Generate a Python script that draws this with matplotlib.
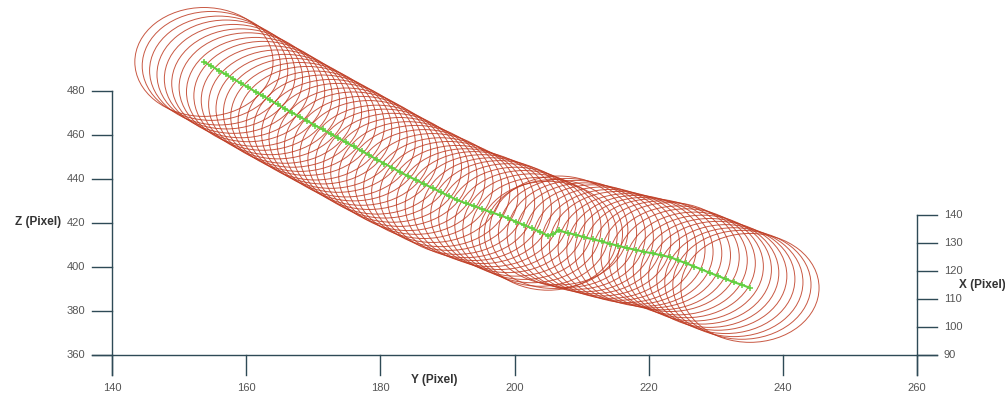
"""
Tube centreline with cross-section circles, drawn as a flat pseudo-3D view
(Y horizontal, Z vertical, X on a separate right-hand scale).
"""
import matplotlib.pyplot as plt
from matplotlib.patches import Ellipse

# centreline (Y, Z in pixels)
y_path = [153.7, 154.8, 155.9, 157.0, 158.1, 159.2, 160.3, 161.4, 162.5, 163.6,
          164.7, 165.8, 166.9, 168.0, 169.1, 170.3, 171.4, 172.6, 173.7, 174.9,
          176.0, 177.2, 178.3, 179.5, 180.6, 181.8, 182.9, 184.1, 185.3, 186.5,
          187.8, 189.0, 190.2, 191.4, 192.7, 194.0, 195.2, 196.5, 197.8, 199.0,
          200.2, 201.4, 202.6, 203.8, 205.0, 205.8, 206.6, 207.9, 209.2, 210.4,
          211.7, 213.0, 214.3, 215.5, 216.8, 218.1, 219.3, 220.6, 221.9, 223.2,
          224.4, 225.6, 226.8, 228.0, 229.1, 230.3, 231.5, 232.7, 233.9, 235.1]
z_path = [493.2, 491.4, 489.3, 487.5, 485.5, 483.5, 481.7, 479.6, 477.8, 475.8,
          473.9, 471.9, 470.1, 468.2, 466.4, 464.3, 462.5, 460.5, 458.7, 456.6,
          454.8, 452.8, 450.9, 448.8, 447.0, 445.1, 443.2, 441.3, 439.6, 437.7,
          435.9, 434.0, 432.3, 430.5, 429.0, 427.7, 426.3, 424.9, 423.6, 422.2,
          420.6, 419.1, 417.6, 416.0, 414.2, 415.0, 416.6, 415.5, 414.6, 413.5,
          412.6, 411.6, 410.5, 409.6, 408.6, 407.8, 406.9, 406.2, 405.3, 404.5,
          403.0, 401.7, 400.2, 398.8, 397.3, 396.0, 394.5, 393.1, 391.9, 390.5]

y_ticks = [140, 160, 180, 200, 220, 240, 260]
z_ticks = [360, 380, 400, 420, 440, 460, 480]
x_ticks = [90, 100, 110, 120, 130, 140]

# cross-section size in data units
tube_w, tube_h = 20.6, 49.5

AX = "#2e4a56"
TXT = "#555555"
RED = "#bf3b22"
GREEN = "#62d040"

fig = plt.figure(figsize=(10.05, 3.94), dpi=100)
ax = fig.add_axes([0, 0, 1, 1])
ax.set_xlim(123.30, 273.12)
ax.set_ylim(342.27, 521.36)
ax.axis("off")

# circles
for yc, zc in zip(y_path, z_path):
    ax.add_patch(Ellipse((yc, zc), tube_w, tube_h, fill=False,
                         ec=RED, lw=0.7, alpha=0.85))

# centreline
ax.plot(y_path, z_path, color=GREEN, lw=1.5, marker="+", ms=4, mew=1.1, zorder=5)

# scale helpers
y0, z0 = y_ticks[0], z_ticks[0]
dy_tick = 3.0          # tick length in Y units
dz_tick = 9.1          # tick length in Z units
x_to_z = 63.6 / 50.0   # right scale: Z units per X unit
y_right = y_ticks[-1]

# Z axis (left)
ax.plot([y0, y0], [z_ticks[-1], z0 - dz_tick], color=AX, lw=1)
for z in z_ticks:
    ax.plot([y0 - dy_tick, y0], [z, z], color=AX, lw=1)
    ax.text(y0 - dy_tick - 1.0, z, str(z), ha="right", va="center",
            fontsize=8, color=TXT, family="Liberation Sans")
ax.text(129.0, 420.5, "Z (Pixel)", ha="center", va="center", fontsize=8.5,
        color="#333333", fontweight="bold", family="Liberation Sans")

# Y axis (bottom)
ax.plot([y0 - dy_tick, y_right + dy_tick], [z0, z0], color=AX, lw=1)
for y in y_ticks:
    ax.plot([y, y], [z0, z0 - dz_tick], color=AX, lw=1)
    ax.text(y, z0 - dz_tick - 6.0, str(y), ha="center", va="center",
            fontsize=8, color=TXT, family="Liberation Sans")
ax.text(188.0, 348.5, "Y (Pixel)", ha="center", va="center", fontsize=8.5,
        color="#333333", fontweight="bold", family="Liberation Sans")

# X axis (right)
x_top = z0 + (x_ticks[-1] - x_ticks[0]) * x_to_z
ax.plot([y_right, y_right], [x_top, z0 - dz_tick], color=AX, lw=1)
for x in x_ticks:
    zz = z0 + (x - x_ticks[0]) * x_to_z
    ax.plot([y_right, y_right + dy_tick], [zz, zz], color=AX, lw=1)
    ax.text(y_right + dy_tick + 1.0, zz, str(x), ha="left", va="center",
            fontsize=8, color=TXT, family="Liberation Sans")
ax.text(269.8, 391.8, "X (Pixel)", ha="center", va="center", fontsize=8.5,
        color="#333333", fontweight="bold", family="Liberation Sans")

fig.savefig("out.png", dpi=100)
